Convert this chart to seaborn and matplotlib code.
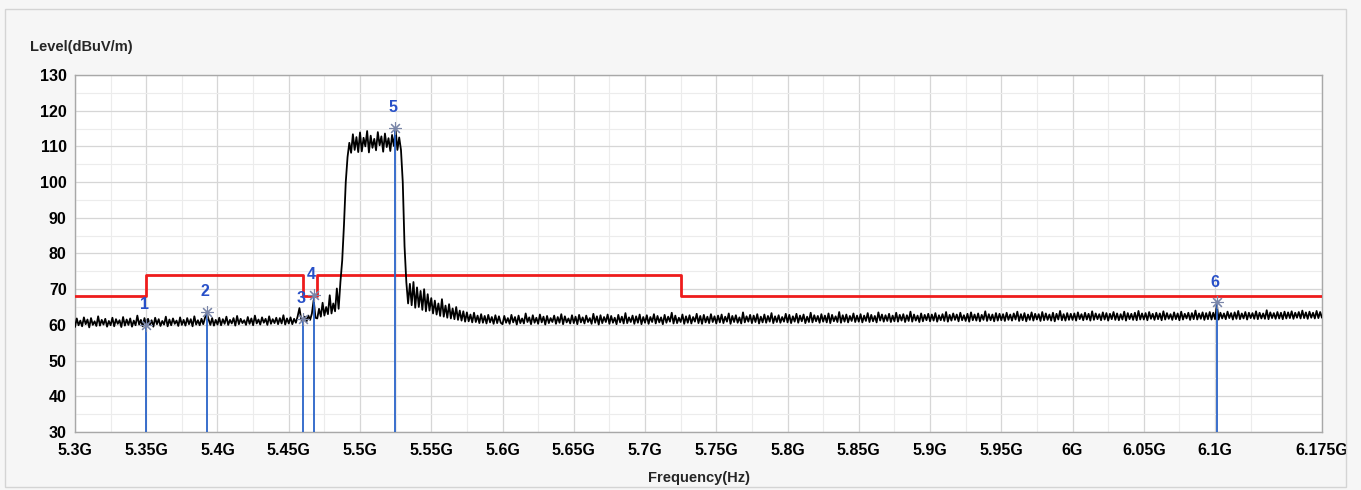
import numpy as np
import pandas as pd
import matplotlib
matplotlib.use("Agg")
import matplotlib.pyplot as plt
import seaborn as sns
from matplotlib.patches import Rectangle

# Sweep: 5.300 GHz to 6.175 GHz in 1.25 MHz steps (701 points), level in dBuV/m
sweep_start_ghz = 5.300
sweep_step_ghz = 0.00125
trace_level = [
    # 5.30 GHz
    59.4, 61.8, 59.9, 61.2, 59.6, 62.1, 60.2, 61.5, 59.3, 61.9, 60.0, 61.0, 59.7, 62.4, 59.8, 61.4, 60.1, 61.7, 59.5, 61.1,
    59.9, 62.0, 59.6, 61.6, 60.3, 61.3, 59.4, 62.2, 59.8, 61.5, 60.0, 61.8, 59.5, 61.2, 59.9, 62.6, 60.1, 61.4, 59.6, 61.9,
    # 5.35 GHz
    59.8, 61.7, 60.0, 61.3, 59.5, 62.0, 60.2, 61.6, 59.7, 61.1, 60.1, 62.3, 59.6, 61.5, 59.9, 61.8, 60.3, 61.2, 59.7, 62.1,
    60.0, 61.4, 59.8, 61.9, 60.2, 61.6, 59.6, 62.4, 60.1, 61.3, 59.9, 61.7, 60.2, 62.0, 63.3, 61.5, 60.0, 61.9, 59.8, 61.4,
    # 5.40 GHz
    60.1, 62.0, 59.9, 61.6, 60.3, 62.3, 60.0, 61.4, 60.4, 61.9, 59.8, 62.5, 60.2, 61.7, 60.5, 61.3, 60.0, 62.2, 60.3, 61.8,
    59.9, 62.6, 60.4, 61.5, 60.1, 62.1, 60.6, 61.7, 60.0, 62.4, 60.3, 61.6, 60.5, 62.0, 60.2, 61.9, 60.4, 62.7, 60.1, 61.8,
    # 5.45 GHz
    60.4, 62.1, 60.2, 61.7, 60.6, 62.4, 64.7, 61.5, 60.9, 62.3, 61.0, 62.6, 61.4, 63.2, 67.0, 62.0, 61.8, 64.5, 62.3, 66.2,
    62.6, 65.0, 63.0, 68.3, 63.2, 66.0, 63.8, 70.2, 64.5, 72.0, 78.0, 88.0, 100.0, 107.0, 111.0, 108.2, 113.4, 109.0, 112.6, 108.4,
    # 5.50 GHz
    113.9, 108.6, 112.4, 110.0, 114.3, 108.3, 113.0, 109.6, 112.1, 108.9, 114.0, 110.3, 112.8, 108.5, 113.6, 109.8, 112.3, 108.7, 113.2, 110.1,
    114.6, 109.0, 112.5, 109.0, 100.0, 82.0, 72.0, 66.0, 71.5, 65.5, 72.0, 64.8, 70.5, 65.0, 69.5, 64.2, 70.0, 63.8, 68.6, 64.0,
    # 5.55 GHz
    67.5, 63.2, 66.8, 62.9, 66.0, 62.5, 67.2, 62.3, 65.4, 62.0, 65.8, 61.8, 64.6, 61.6, 65.0, 61.4, 64.0, 61.2, 63.8, 60.9,
    63.5, 61.0, 62.9, 60.7, 63.4, 60.8, 62.6, 60.5, 63.0, 60.6, 62.5, 60.4, 62.8, 60.7, 62.2, 60.3, 62.7, 60.5, 62.4, 60.6,
    # 5.60 GHz
    60.2, 62.5, 60.6, 61.9, 60.3, 62.8, 60.7, 62.2, 60.1, 62.6, 60.5, 61.8, 60.4, 63.2, 60.8, 62.1, 60.2, 62.7, 60.6, 62.0,
    60.3, 62.9, 60.7, 62.3, 60.1, 62.5, 60.5, 61.9, 60.8, 62.6, 60.3, 62.2, 60.6, 63.0, 60.2, 62.4, 60.7, 61.8, 60.4, 62.7,
    # 5.65 GHz
    60.5, 62.3, 60.2, 62.8, 60.7, 62.1, 60.4, 62.6, 60.8, 61.9, 60.3, 63.1, 60.6, 62.4, 60.1, 62.7, 60.5, 62.2, 60.8, 62.9,
    60.3, 62.5, 60.6, 62.0, 60.2, 62.8, 60.7, 62.3, 60.4, 63.3, 60.5, 62.1, 60.8, 62.6, 60.3, 62.4, 60.6, 62.9, 60.2, 62.2,
    # 5.70 GHz
    60.6, 62.7, 60.3, 62.2, 60.8, 63.0, 60.4, 62.5, 60.7, 62.1, 60.2, 62.8, 60.6, 62.3, 60.9, 63.4, 60.4, 62.6, 60.5, 62.0,
    60.8, 62.9, 60.3, 62.4, 60.6, 62.7, 60.4, 62.2, 60.9, 63.1, 60.5, 62.5, 60.3, 62.8, 60.7, 62.3, 60.5, 63.0, 60.8, 62.4,
    # 5.75 GHz
    60.4, 62.6, 60.7, 62.9, 60.5, 62.3, 60.9, 63.2, 60.3, 62.5, 60.8, 62.7, 60.6, 62.1, 60.4, 63.5, 60.7, 62.4, 60.9, 62.8,
    60.5, 62.6, 60.8, 63.0, 60.4, 62.3, 60.7, 62.9, 60.6, 62.5, 60.9, 63.3, 60.5, 62.4, 60.8, 62.7, 60.6, 62.2, 60.9, 63.1,
    # 5.80 GHz
    60.7, 62.8, 60.5, 62.4, 60.9, 63.1, 60.6, 62.6, 61.0, 62.9, 60.5, 62.3, 60.8, 63.4, 60.7, 62.7, 61.0, 62.5, 60.6, 63.0,
    60.9, 62.6, 60.7, 63.2, 60.5, 62.8, 61.0, 62.4, 60.8, 63.6, 60.6, 62.7, 60.9, 62.9, 60.7, 62.5, 61.1, 63.2, 60.8, 62.6,
    # 5.85 GHz
    60.9, 63.0, 60.7, 62.6, 61.1, 63.3, 60.8, 62.8, 61.0, 62.5, 60.7, 63.5, 61.2, 62.9, 60.9, 62.7, 61.1, 63.1, 60.8, 62.6,
    61.0, 63.4, 60.9, 62.8, 61.2, 63.0, 60.8, 62.7, 61.1, 63.7, 60.9, 62.9, 61.2, 62.6, 60.8, 63.2, 61.0, 62.8, 61.3, 63.1,
    # 5.90 GHz
    61.0, 62.9, 61.2, 63.3, 60.9, 62.7, 61.3, 63.0, 61.1, 63.6, 60.9, 62.8, 61.2, 63.2, 61.4, 62.9, 61.0, 63.4, 61.3, 62.7,
    61.1, 63.1, 60.9, 63.5, 61.3, 62.9, 61.2, 63.2, 61.0, 62.8, 61.4, 63.8, 61.1, 63.0, 61.3, 62.9, 61.0, 63.3, 61.2, 63.1,
    # 5.95 GHz
    61.3, 63.0, 61.1, 63.4, 61.4, 62.9, 61.2, 63.2, 61.5, 63.7, 61.1, 63.0, 61.3, 63.3, 61.0, 62.9, 61.4, 63.5, 61.2, 63.1,
    61.5, 63.0, 61.1, 63.6, 61.3, 63.2, 61.4, 62.9, 61.2, 63.4, 61.0, 63.1, 61.5, 63.9, 61.3, 63.0, 61.2, 63.3, 61.4, 63.1,
    # 6.00 GHz
    61.4, 63.2, 61.2, 63.5, 61.6, 63.0, 61.3, 63.4, 61.5, 63.1, 61.2, 63.8, 61.4, 63.2, 61.6, 63.0, 61.3, 63.5, 61.5, 63.3,
    61.2, 63.1, 61.6, 63.6, 61.4, 63.2, 61.3, 63.0, 61.5, 63.7, 61.2, 63.3, 61.6, 63.1, 61.4, 63.4, 61.3, 63.9, 61.5, 63.2,
    # 6.05 GHz
    61.5, 63.3, 61.3, 63.6, 61.7, 63.1, 61.4, 63.4, 61.6, 63.2, 61.3, 63.8, 61.5, 63.3, 61.7, 63.0, 61.4, 63.5, 61.6, 63.2,
    61.3, 63.7, 61.5, 63.1, 61.8, 63.4, 61.4, 63.3, 61.6, 64.0, 61.5, 63.2, 61.7, 63.5, 61.4, 63.3, 61.6, 63.6, 61.5, 63.4,
    # 6.10 GHz
    61.6, 65.6, 61.5, 63.4, 61.8, 63.2, 61.6, 63.7, 61.9, 63.3, 61.5, 63.5, 61.7, 63.9, 61.6, 63.2, 61.8, 63.6, 61.5, 63.4,
    61.9, 63.3, 61.7, 63.8, 61.6, 63.4, 61.8, 63.2, 61.7, 64.1, 61.6, 63.5, 61.9, 63.3, 61.7, 63.6, 61.8, 63.4, 61.6, 63.7,
    # 6.15 GHz
    61.8, 63.5, 61.9, 63.8, 61.7, 63.4, 62.0, 63.6, 61.8, 64.0, 61.9, 63.5, 61.7, 63.7, 62.0, 63.4, 61.8, 63.9, 61.9, 63.6, 62.0,
]

# Limit line (step edges, GHz) and levels (dBuV/m)
limit_freq = [5.300, 5.350, 5.460, 5.470, 5.725, 6.175]
limit_level = [68.2, 74.0, 68.2, 74.0, 68.2, 68.2]

# Markers
marker_id = ["1", "2", "3", "4", "5", "6"]
marker_freq = [5.3500, 5.3925, 5.4600, 5.4675, 5.5245, 6.1012]
marker_level = [60.0, 63.6, 61.6, 68.4, 115.2, 66.3]

# Axis ticks
x_ticks = [5.30, 5.35, 5.40, 5.45, 5.50, 5.55, 5.60, 5.65, 5.70, 5.75,
           5.80, 5.85, 5.90, 5.95, 6.00, 6.05, 6.10, 6.175]
x_tick_labels = ["5.3G", "5.35G", "5.4G", "5.45G", "5.5G", "5.55G", "5.6G", "5.65G", "5.7G",
                 "5.75G", "5.8G", "5.85G", "5.9G", "5.95G", "6G", "6.05G", "6.1G", "6.175G"]
y_ticks = [30, 40, 50, 60, 70, 80, 90, 100, 110, 120, 130]

trace = pd.DataFrame({
    "freq": sweep_start_ghz + sweep_step_ghz * np.arange(len(trace_level)),
    "level": trace_level,
})
limit = pd.DataFrame({"freq": limit_freq, "level": limit_level})

sns.set_theme(style="white")
plt.rcParams["font.family"] = ["Liberation Sans", "DejaVu Sans"]

fig = plt.figure(figsize=(13.61, 4.90), dpi=100, facecolor="#f6f6f6")
fig.patches.append(Rectangle((0.004, 0.006), 0.985, 0.975, transform=fig.transFigure,
                             fill=False, edgecolor="#d4d4d4", lw=1.0))
ax = fig.add_axes([0.0551, 0.1184, 0.9162, 0.7286])
ax.set_facecolor("white")

ax.set_xlim(5.300, 6.175)
ax.set_ylim(30, 130)

# grid
ax.set_xticks(np.arange(5.325, 6.175, 0.05), minor=True)
ax.set_yticks(np.arange(35, 130, 10), minor=True)
ax.grid(which="major", color="#d6d6d6", lw=0.9)
ax.grid(which="minor", color="#ececec", lw=0.8)
ax.set_axisbelow(True)

sns.lineplot(data=limit, x="freq", y="level", ax=ax, color="#ee1c1c", lw=2.0,
             drawstyle="steps-post", estimator=None, sort=False, zorder=3)
sns.lineplot(data=trace, x="freq", y="level", ax=ax, color="black", lw=1.3,
             estimator=None, sort=False, zorder=4)

# markers
for mid, mf, ml in zip(marker_id, marker_freq, marker_level):
    ax.vlines(mf, 30, ml, color="#2a63c8", lw=1.3, zorder=5)
    ax.plot(mf, ml, marker=(8, 2, 0), ms=9, mew=0.8, color="#7a86a8", zorder=6)
    ax.text(mf - 0.0015, ml + 3.6, mid, color="#2850c8", fontsize=11.5, fontweight="bold",
            ha="center", va="bottom", zorder=7)

ax.set_xticks(x_ticks)
ax.set_xticklabels(x_tick_labels)
ax.set_yticks(y_ticks)
ax.tick_params(axis="both", which="both", length=0, labelsize=11.5, colors="black")
ax.tick_params(axis="x", pad=8)
ax.tick_params(axis="y", pad=6)
for lbl in ax.get_xticklabels() + ax.get_yticklabels():
    lbl.set_fontweight("bold")

for side in ["left", "bottom", "top", "right"]:
    ax.spines[side].set_visible(True)
    ax.spines[side].set_color("#a8a8a8")
    ax.spines[side].set_linewidth(1.0)

ax.set_xlabel("")
ax.set_ylabel("")
fig.text(0.022, 0.905, "Level(dBuV/m)", fontsize=10.5, fontweight="bold", ha="left", va="center")
fig.text(0.5135, 0.025, "Frequency(Hz)", fontsize=10.5, fontweight="bold", ha="center", va="center")

fig.savefig("out.png", dpi=100, facecolor=fig.get_facecolor())
